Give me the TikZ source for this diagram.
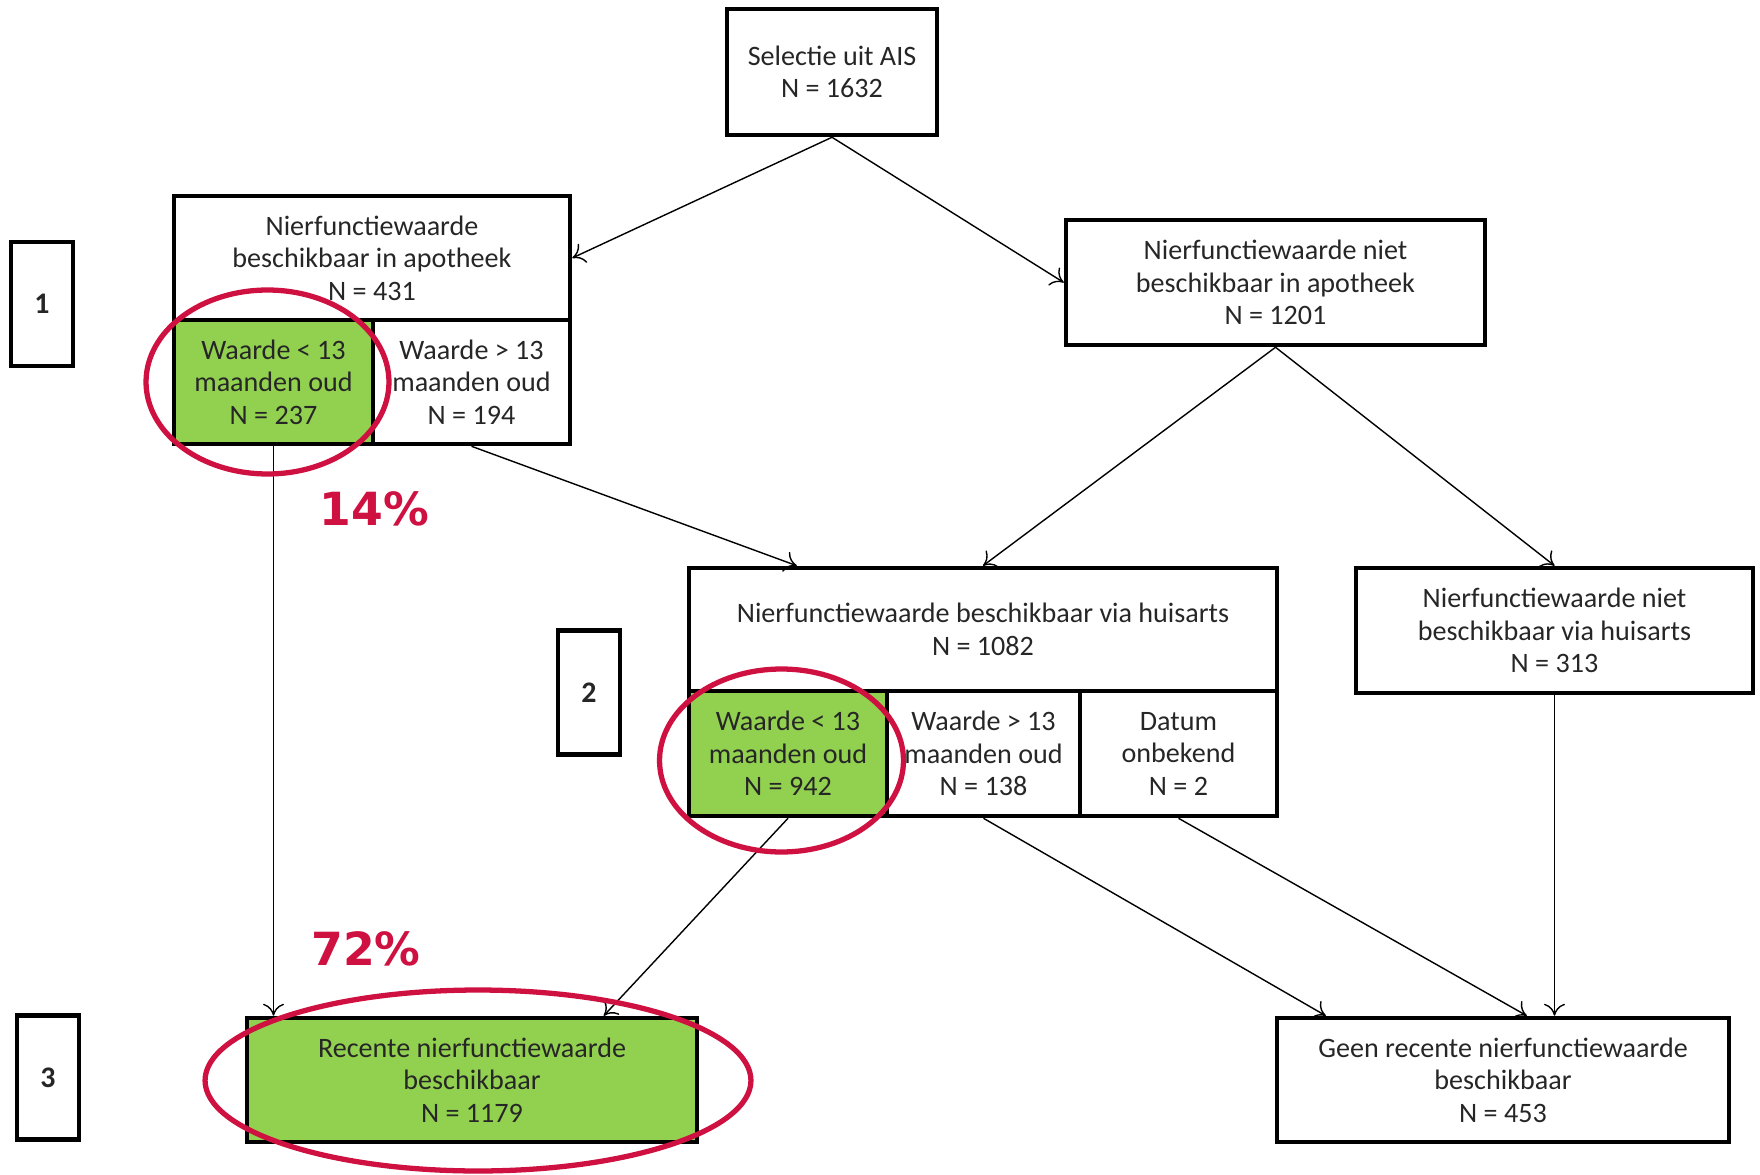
\documentclass[tikz,border=0pt]{standalone}
\usepackage{fontspec}
\setmainfont{Carlito}
\newfontfamily\pctfont{DejaVu Sans}
\usepackage{tikz}
\usetikzlibrary{calc, arrows.meta}
\definecolor{boxgreen}{RGB}{146,208,80}
\definecolor{ringred}{RGB}{206,17,65}

\begin{document}
\begin{tikzpicture}[x=0.02cm, y=-0.02cm,
    every node/.style={align=center, text=black!85, font=\fontsize{16}{18.5}\selectfont},
    box/.style={draw, rectangle, line width=2.6pt, inner sep=0pt},
    greenbox/.style={box, fill=boxgreen},
    stage/.style={box, minimum width=1.24cm, minimum height=2.48cm, font=\bfseries\fontsize{17}{19}\selectfont},
    ring/.style={draw=ringred, line width=3pt},
    pct/.style={text=ringred, font=\pctfont\bfseries\fontsize{26}{30}\selectfont},
    flow/.style={-{To[length=2.4mm, width=4.2mm]}, line width=0.8pt}]
    \useasboundingbox (0,0) rectangle (1760,1175);

    % bovenste selectie
    \node (ais) [box, minimum width=4.2cm, minimum height=2.52cm] at (832,72) {Selectie uit AIS\\N = 1632};

    % stap 1: apotheek
    \node (apoHead) [box, minimum width=7.92cm, minimum height=2.48cm] at (372,258) {Nierfunctiewaarde\\beschikbaar in apotheek\\N = 431};
    \node (apoLow) [greenbox, minimum width=3.98cm, minimum height=2.48cm] at (273.5,382) {Waarde < 13\\maanden oud\\N = 237};
    \node (apoHigh) [box, minimum width=3.94cm, minimum height=2.48cm] at (471.5,382) {Waarde > 13\\maanden oud\\N = 194};
    \node (apoNone) [box, minimum width=8.38cm, minimum height=2.5cm] at (1275.5,282.5) {Nierfunctiewaarde niet\\beschikbaar in apotheek\\N = 1201};

    % stap 2: huisarts
    \node (hzHead) [box, minimum width=11.76cm, minimum height=2.46cm] at (983,629.5) {Nierfunctiewaarde beschikbaar via huisarts\\N = 1082};
    \node (hzLow) [greenbox, minimum width=3.96cm, minimum height=2.5cm] at (788,753.5) {Waarde < 13\\maanden oud\\N = 942};
    \node (hzHigh) [box, minimum width=3.86cm, minimum height=2.5cm] at (983.5,753.5) {Waarde > 13\\maanden oud\\N = 138};
    \node (hzDate) [box, minimum width=3.94cm, minimum height=2.5cm] at (1178.5,753.5) {Datum\\onbekend\\N = 2};
    \node (hzNone) [box, minimum width=7.94cm, minimum height=2.5cm] at (1554.5,630.5) {Nierfunctiewaarde niet\\beschikbaar via huisarts\\N = 313};

    % stap 3: resultaat
    \node (recent) [greenbox, minimum width=9.0cm, minimum height=2.48cm] at (472,1080) {Recente nierfunctiewaarde\\beschikbaar\\N = 1179};
    \node (noRecent) [box, minimum width=9.04cm, minimum height=2.48cm] at (1503,1080) {Geen recente nierfunctiewaarde\\beschikbaar\\N = 453};

    % stapnummers
    \node (stage1) [stage] at (42,304) {1};
    \node (stage2) [stage] at (589,692.5) {2};
    \node (stage3) [stage] at (48,1077.5) {3};

    % arrows
    \draw[flow] (ais.south) -- (apoHead.east);
    \draw[flow] (ais.south) -- (apoNone.west);
    \draw[flow] (apoHigh.south) -- ($(hzHead.north west)+(110,0)$);
    \draw[flow] (apoNone.south) -- (hzHead.north);
    \draw[flow] (apoNone.south) -- (hzNone.north);
    \draw[flow] (apoLow.south) -- (apoLow.south |- recent.north);
    \draw[flow] (hzLow.south) -- ($(recent.north west)+(359,0)$);
    \draw[flow] (hzHigh.south) -- ($(noRecent.north west)+(51,0)$);
    \draw[flow] (hzDate.south) -- ($(noRecent.north west)+(252,0)$);
    \draw[flow] (hzNone.south) -- (hzNone.south |- noRecent.north);

    % rode markering
    \draw[ring] (267.5,382) ellipse [x radius=2.43cm, y radius=1.84cm];
    \draw[ring] (781.5,760.5) ellipse [x radius=2.44cm, y radius=1.83cm];
    \draw[ring] (478,1080.5) ellipse [x radius=5.46cm, y radius=1.81cm];
    \node (pctApo) [pct] at (374.5,509) {14\%};
    \node (pctTotal) [pct] at (366,949) {72\%};
\end{tikzpicture}
\end{document}
